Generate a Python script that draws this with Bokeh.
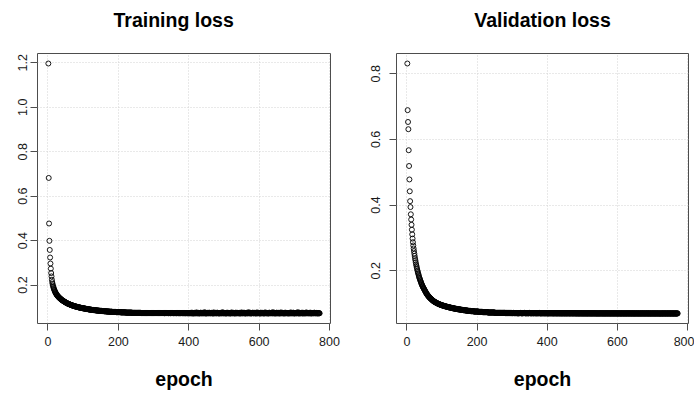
import numpy as np
from bokeh.plotting import figure
from bokeh.layouts import row
from bokeh.models import FixedTicker, NumeralTickFormatter, Range1d, Title
from bokeh.embed import file_html
from bokeh.resources import INLINE

# ---- data (loss values in thousandths) ----
train_loss_milli = [
    1197, 682, 477, 399, 358, 324, 297, 274, 254, 239, 224, 213, 205, 198, 192, 187, 182, 178, 174, 170,
    167, 164, 161, 158, 156, 154, 152, 150, 148, 146, 145, 143, 142, 140, 139, 137, 136, 135, 133, 132,
    131, 130, 129, 128, 127, 126, 125, 124, 123, 122, 121, 120, 119, 118, 118, 117, 116, 115, 115, 114,
    113, 113, 112, 111, 111, 110, 110, 109, 108, 108, 107, 107, 106, 106, 105, 105, 104, 104, 103, 103,
    102, 102, 102, 101, 101, 100, 100, 100, 99, 99, 98, 98, 98, 97, 97, 97, 96, 96, 96, 95,
    95, 95, 95, 94, 94, 94, 93, 93, 93, 92, 92, 92, 92, 91, 91, 91, 90, 90, 90, 90,
    89, 89, 89, 89, 88, 88, 88, 88, 88, 87, 87, 87, 87, 87, 86, 86, 86, 86, 86, 85,
    85, 85, 85, 85, 85, 84, 84, 84, 84, 84,
    84, 84, 83, 83, 83, 83, 83, 83, 82, 82, 82, 82, 82, 82, 82, 81, 81, 81, 81, 81,
    81, 81, 81, 80, 80, 80, 80, 80, 80, 80, 80, 80, 79, 79, 79, 79, 79, 79, 79, 79,
    79, 79, 79, 78, 78, 78, 78, 78, 78, 78,
    78, 78, 78, 78, 78, 78, 77, 77, 77, 77, 77, 77, 77, 77, 77, 77, 77, 77, 77, 77,
    76, 76, 76, 76, 76, 76, 76, 76, 76, 76, 76, 76, 76, 76, 76, 76, 76, 76, 75, 75,
    75, 75, 75, 75, 75, 75, 75, 75, 75, 75,
    75, 75, 75, 75, 75, 75, 75, 75, 75, 75, 75, 75, 75, 74, 74, 74, 74, 74, 74, 74,
    74, 74, 74, 74, 74, 74, 74, 74, 74, 74, 74, 74, 74, 74, 74, 74, 74, 74, 74, 74,
    74, 74, 74, 74, 74, 74, 74, 74, 74, 74,
    74, 74, 74, 74, 74, 74, 74, 74, 74, 74, 74, 74, 74, 74, 74, 74, 74, 74, 74, 74,
    74, 74, 74, 74, 74, 74, 74, 74, 74, 74, 73, 74, 74, 74, 74, 74, 74, 74, 74, 74,
    74, 74, 73, 74, 74, 74, 74, 73, 74, 74, 74, 74, 74, 74, 74, 73, 74, 74, 74, 74,
    73, 74, 74, 74, 73, 74, 74, 74, 74, 73, 74, 74, 74, 73, 74, 74, 73, 74, 74, 74,
    73, 74, 74, 73, 74, 74, 73, 74, 74, 73, 74, 73, 74, 74, 73, 74, 73, 74, 73, 74,
    73, 74, 73, 75, 73, 74, 73, 73, 76, 73, 74, 73, 72, 74, 73, 75, 73, 73, 74, 73,
    73, 77, 73, 74, 73, 73, 75, 73, 74, 72, 73, 74, 73, 76, 73, 73, 74, 73, 73, 75,
    73, 74, 73, 73, 78, 73, 74, 73, 72, 73, 74, 73, 75, 73, 73, 74, 73, 76, 73, 74,
    73, 73, 74, 73, 75, 73, 73, 74, 72, 73, 77, 73, 74, 73, 73, 75, 73, 74, 73, 73,
    76, 73, 74, 73, 73, 74, 72, 73, 75, 73, 74, 73, 73, 74, 73, 78, 73, 74, 73, 73,
    74, 73, 75, 73, 72, 74, 73, 73, 76, 73, 74, 73, 73, 75, 73, 74, 73, 72, 73, 74,
    73, 77, 73, 74, 73, 73, 75, 73, 74, 73, 72, 74, 73, 76, 73, 73, 74, 73, 75, 73,
    73, 74, 73, 73, 75, 72, 74, 73, 73, 77, 73, 74, 73, 73, 74, 73, 76, 73, 74, 73,
    72, 73, 74, 73, 75, 73, 73, 74, 73, 78, 73, 74, 73, 73, 75, 73, 72, 74, 73, 73,
    74, 76, 73, 73, 74, 73, 75, 73, 74, 73, 72, 73, 74, 77, 73, 73, 74, 73, 75, 73,
    73, 74, 72, 73, 76, 73, 74, 73, 73, 75, 73, 74, 73, 72, 74, 73, 77, 73, 74, 73,
    73, 75, 73, 74, 73, 72, 73, 74, 76, 73, 73, 74, 73, 75, 73, 74, 73, 73, 78, 73,
    74, 73, 73, 75, 73, 72, 74, 73, 73, 76, 73, 74, 73, 73, 75, 73, 74, 72, 73, 74,
    73, 77, 73, 74, 73, 73, 75, 73, 74, 73, 72, 74, 73, 76, 73, 73, 74, 73, 75, 73,
    73, 74, 73, 72, 75, 73, 74, 73, 73, 77, 73, 74, 73, 73, 74, 73, 76, 73, 74, 72,
    73, 73, 74, 73, 75, 73, 73, 74, 73, 78, 73, 74, 73, 72, 75, 73, 73, 74, 73, 73,
    74, 76, 73, 73, 74, 72, 75, 73, 74, 73, 73, 73, 74, 77, 73, 73, 74, 73, 75, 73,
    73, 74, 73, 73, 76, 73, 74, 72, 73, 75, 73, 74, 73, 73, 74, 73, 76, 73, 74, 73,
    73, 75, 73, 74, 73, 72, 74, 73, 73, 74, 73, 73,
]

val_loss_milli = [
    831, 689, 653, 631, 567, 519, 478, 442, 412, 394, 372, 356, 340, 325, 311, 298, 287,
    277, 268, 260, 252, 245, 238, 232, 226, 220, 215, 210, 205, 200,
    196, 192, 188, 184, 180, 177, 174, 171, 168, 165, 162, 159, 157, 154, 152, 150, 148, 146, 144, 142,
    140, 138, 136, 134, 132, 130, 129, 127, 126, 124, 123, 122, 120, 119, 118, 117, 116, 115, 114, 113,
    112, 111, 110, 109, 108, 108, 107, 106, 105, 105,
    104, 104, 103, 102, 102, 101, 101, 100, 100, 99, 99, 98, 98, 97, 97, 97, 96, 96, 95, 95,
    95, 94, 94, 94, 93, 93, 93, 92, 92, 92, 91, 91, 91, 91, 90, 90, 90, 89, 89, 89,
    89, 88, 88, 88, 88, 87, 87, 87, 87, 86, 86, 86, 86, 85, 85, 85, 85, 85, 84, 84,
    84, 84, 84, 83, 83, 83, 83, 83, 82, 82, 82, 82, 82, 82, 81, 81, 81, 81, 81, 81,
    80, 80, 80, 80, 80, 80, 79, 79, 79, 79, 79, 79, 79, 78, 78, 78, 78, 78, 78, 78,
    78, 77, 77, 77, 77, 77, 77, 77, 77, 77, 76, 76, 76, 76, 76, 76, 76, 76, 76, 76,
    76, 76, 76, 75, 75, 75, 75, 75, 75, 75, 75, 75, 75, 75, 75, 74, 74, 74, 74, 74,
    74, 74, 74, 74, 74, 74, 74, 74, 74, 74, 73, 73, 73, 73, 73, 73, 73, 73, 73, 73,
    73, 73, 73, 73, 73, 73, 73, 73, 73, 73, 72, 72, 72, 72, 72, 72, 72, 72, 72, 72,
    72, 72, 72, 72, 72, 72, 72, 72, 72, 72, 72, 72, 72, 72, 72, 72, 72, 72, 72, 72,
    71, 72, 71, 72, 71, 72, 71, 72, 71, 72, 71, 71, 72, 71, 71, 72, 71, 71, 72, 71,
    71, 71, 71, 72, 71, 71, 71, 71, 71, 71, 72, 71, 71, 71, 71, 71, 70, 71, 71, 71,
    71, 71, 72, 71, 71, 71, 71, 70, 71, 71, 71, 71, 71, 71, 72, 71, 71, 71, 70, 71,
    71, 71, 71, 71, 71, 70, 71, 71, 71, 72, 71, 71, 71, 70, 71, 71, 71, 71, 71, 71,
    70, 71, 71, 71, 71, 71, 71, 70, 71, 71, 71, 71, 70, 71, 71, 71, 72, 71, 71, 70,
    71, 71, 70, 71, 71, 71, 70, 71, 71, 71, 71, 70, 71, 71, 70, 71, 71, 71, 71, 70,
    71, 70, 71, 71, 70, 71, 71, 71, 70, 71, 71, 70, 71, 71, 71, 70, 71, 70, 71, 71,
    70, 71, 71, 70, 71, 71, 70, 71, 70, 71, 71, 70, 71, 71, 70, 71, 70, 71, 71, 70,
    71, 70, 71, 70, 71, 71, 70, 71, 70, 71, 70, 71, 71, 70, 71, 70, 71, 70, 71, 71,
    70, 71, 70, 71, 70, 71, 70, 71, 71, 70, 71, 70, 71, 70, 71, 70, 71, 71, 70, 71,
    70, 71, 70, 70, 71, 70, 71, 70, 71, 70, 70, 71, 70, 71, 70, 71, 70, 70, 71, 70,
    71, 70, 70, 71, 70, 71, 70, 70, 71, 70, 71, 70, 70, 71, 70, 70, 71, 70, 71, 70,
    70, 71, 70, 70, 71, 70, 70, 71, 70, 70, 71, 70, 71, 70, 70, 71, 70, 70, 71, 70,
    70, 70, 71, 70, 70, 71, 70, 70, 70, 71, 70, 70, 71, 70, 70, 71, 70, 70, 70, 71,
    70, 70, 71, 70, 70, 70, 71, 70, 70, 71, 70, 70, 70, 71, 70, 70, 71, 70, 70, 70,
    71, 70, 70, 70, 71, 70, 70, 70, 71, 70, 70, 71, 70, 70, 70, 71, 70, 70, 70, 71,
    70, 70, 70, 71, 70, 70, 70, 71, 70, 70, 70, 70, 71, 70, 70, 70, 71, 70, 70, 70,
    70, 71, 70, 70, 70, 70, 71, 70, 70, 70, 71, 70, 70, 70, 70, 71, 70, 70, 70, 70,
    71, 70, 70, 70, 70, 71, 70, 70, 70, 70, 70, 71, 70, 70, 70, 70, 71, 70, 70, 70,
    70, 70, 71, 70, 70, 70, 70, 70, 71, 70, 70, 70, 70, 71, 70, 70, 70, 70, 70, 71,
    70, 70, 70, 70, 71, 70, 70, 70, 70, 70, 71, 70, 70, 70, 70, 70, 70, 71, 70, 70,
    70, 70, 70, 71, 70, 70, 70, 70, 70, 70, 71, 70, 70, 70, 70, 70, 71, 70, 70, 70,
    70, 70, 70, 70, 70, 71, 70, 70, 70, 70, 70, 70, 71, 70, 70, 70, 70, 70, 70, 71,
    70, 70, 70, 70, 70, 70, 71, 70, 70, 70, 70, 70, 70, 70, 71, 70, 70, 70, 70, 70,
    70, 70, 71, 70, 70, 70, 70, 70, 70, 70, 71, 70,
]

x_ticks = [0, 200, 400, 600, 800]
train_y_ticks = [0.2, 0.4, 0.6, 0.8, 1.0, 1.2]
val_y_ticks = [0.2, 0.4, 0.6, 0.8]
titles = ["Training loss", "Validation loss"]
x_label = "epoch"

FONT = "Liberation Sans"
DARK = "#4d4d4d"


def make_panel(title, vals_milli, yticks, b_left, b_right, t_align, t_offset, ylab_standoff):
    y = np.array(vals_milli, dtype=float) / 1000.0
    x = np.arange(1, len(y) + 1)
    # R-style 4% padding of the data range
    xpad = 0.04 * (x.max() - x.min())
    ypad = 0.04 * (y.max() - y.min())
    x0, x1 = x.min() - xpad, x.max() + xpad
    y0, y1 = y.min() - ypad, y.max() + ypad
    p = figure(width=347, height=394, output_backend="svg", toolbar_location=None,
               x_range=Range1d(x0, x1), y_range=Range1d(y0, y1),
               min_border_left=b_left, min_border_right=b_right,
               min_border_top=53, min_border_bottom=71)

    # blank gap between the plot box and the main title (first panel = closest to the box)
    p.add_layout(Title(text=" ", text_font=FONT, text_font_size="8px", standoff=2), "above")
    # main title
    p.add_layout(Title(text=title, align=t_align, vertical_align="top",
                       offset=t_offset, standoff=16,
                       text_font=FONT, text_font_size="19.5px",
                       text_font_style="bold", text_color="black"), "above")

    p.background_fill_color = "white"
    p.border_fill_color = "white"
    p.outline_line_color = DARK
    p.outline_line_width = 1

    p.xaxis.ticker = FixedTicker(ticks=x_ticks)
    p.yaxis.ticker = FixedTicker(ticks=yticks)
    p.yaxis.formatter = NumeralTickFormatter(format="0.0")
    for ax in (p.xaxis, p.yaxis):
        ax.axis_line_color = None
        ax.major_tick_line_color = DARK
        ax.major_tick_out = 7
        ax.major_tick_in = 0
        ax.minor_tick_line_color = None
        ax.major_label_text_font = FONT
        ax.major_label_text_font_size = "12.5px"
        ax.major_label_text_color = "#1a1a1a"
    p.xaxis.major_label_standoff = 6
    p.yaxis.major_label_standoff = ylab_standoff
    p.yaxis.major_label_orientation = "vertical"

    p.xaxis.axis_label = x_label
    p.xaxis.axis_label_standoff = 19
    p.xaxis.axis_label_text_font = FONT
    p.xaxis.axis_label_text_font_size = "19.5px"
    p.xaxis.axis_label_text_font_style = "bold"
    p.xaxis.axis_label_text_color = "black"

    p.grid.grid_line_color = "#d3d3d3"
    p.grid.grid_line_dash = "1 2"
    p.grid.grid_line_width = 1

    p.scatter(x, y, marker="circle", size=5, fill_color=None,
              line_color="black", line_width=0.9)
    return p


p1 = make_panel(titles[0], train_loss_milli, train_y_ticks, 37, 17, "left", 76, 3)
p2 = make_panel(titles[1], val_loss_milli, val_y_ticks, 49, 6, "center", 0, 9)
layout = row(p1, p2)

open("out.html", "w").write(file_html(layout, INLINE))
